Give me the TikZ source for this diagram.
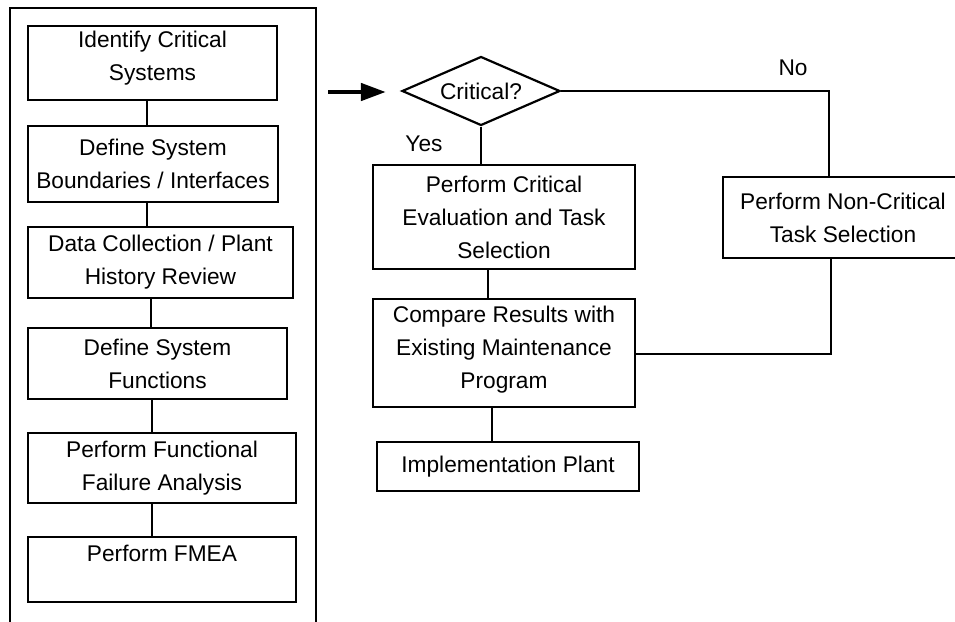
\documentclass[tikz,border=0pt]{standalone}
\usepackage{fontspec}
\setmainfont{Liberation Sans}
\usetikzlibrary{shapes.geometric,arrows.meta}
\begin{document}
\begin{tikzpicture}[x=1pt,y=-1pt,
  box/.style={draw,line width=2.6pt,rectangle,align=center,inner sep=0pt,
              font=\fontsize{22.7}{33}\selectfont},
  link/.style={line width=2.2pt},
  lbl/.style={font=\fontsize{22.7}{27}\selectfont,inner sep=0pt}]
\useasboundingbox (0,0) rectangle (955,621);

% frame around the analysis steps
\draw[line width=2.2pt] (10,640) -- (10,8) -- (316,8) -- (316,640);

% analysis steps
\node[box,minimum width=249pt,minimum height=74pt,text depth=14pt] (s1) at (152.5,63) {Identify Critical\\Systems};
\node[box,minimum width=250pt,minimum height=76pt] (s2) at (153,164) {Define System\\Boundaries / Interfaces};
\node[box,minimum width=265pt,minimum height=71pt] (s3) at (160.5,262.5) {Data Collection / Plant\\History Review};
\node[box,minimum width=259pt,minimum height=71pt] (s4) at (157.5,363.5) {Define System\\Functions};
\node[box,minimum width=268pt,minimum height=70pt] (s5) at (162,468) {Perform Functional\\Failure Analysis};
\node[box,minimum width=268pt,minimum height=65pt] (s6) at (162,569.5) {Perform FMEA\\\mbox{}};

\draw[link] ([xshift=-5.5pt]s1.south) -- ([xshift=-6pt]s2.north);
\draw[link] ([xshift=-6pt]s2.south) -- ([xshift=-13.5pt]s3.north);
\draw[link] ([xshift=-9.5pt]s3.south) -- ([xshift=-6.5pt]s4.north);
\draw[link] ([xshift=-5.5pt]s4.south) -- ([xshift=-10pt]s5.north);
\draw[link] ([xshift=-10pt]s5.south) -- ([xshift=-10pt]s6.north);

% decision and task selection
\coordinate (src) at (328,92);
\node[diamond,draw,line width=2.2pt,aspect=2.29,minimum width=158pt,minimum height=69pt,lbl] (dec) at (481,91) {Critical?};
\draw[line width=4.5pt,shorten >=15pt,-{Triangle[length=25pt,width=17pt]}] (src) -- (src -| dec.west);

\node[box,minimum width=262pt,minimum height=104pt] (ce) at (504,217) {Perform Critical\\Evaluation and Task\\Selection};
\node[box,minimum width=262pt,minimum height=108pt,text depth=11pt] (cmp) at (504,353) {Compare Results with\\Existing Maintenance\\Program};
\node[box,minimum width=262pt,minimum height=49pt] (imp) at (508,466.5) {Implementation Plant};
\node[box,minimum width=240pt,minimum height=81pt] (nc) at (843,217.5) {Perform Non-Critical\\Task Selection};

\node[lbl] (yes) at (424,144) {Yes};
\node[lbl] (no) at (793,68) {No};

\draw[link] (dec.south) -- (dec.south |- ce.north);
\draw[link] ([xshift=-16pt]ce.south) -- ([xshift=-16pt]cmp.north);
\draw[link] ([xshift=-12pt]cmp.south) -- ([xshift=-16pt]imp.north);

\coordinate (nturn) at (829,91);
\draw[link] (dec.east) -- (nturn) -- (nturn |- nc.north);
\coordinate (rturn) at (831,354);
\draw[link] (rturn |- nc.south) -- (rturn) -- (rturn -| cmp.east);
\end{tikzpicture}
\end{document}
